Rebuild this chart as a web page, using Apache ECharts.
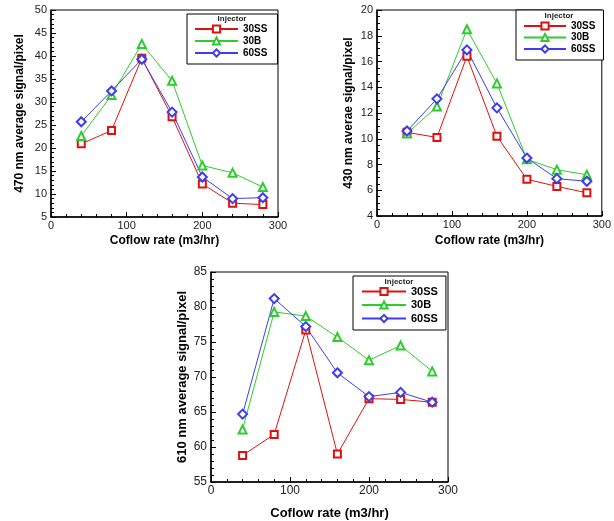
<!DOCTYPE html>
<html>
<head>
<meta charset="utf-8">
<script src="https://cdn.jsdelivr.net/npm/echarts@6/dist/echarts.min.js"></script>
<style>
html,body{margin:0;padding:0;background:#fff;}
#main{width:614px;height:521px;}
</style>
</head>
<body>
<div id="main"></div>
<script>
var coflow = [40, 80, 120, 160, 200, 240, 280];
var names = ['30SS', '30B', '60SS'];

// 470 nm
var s470_30SS = [20.9, 23.8, 39.5, 26.8, 12.2, 8.0, 7.7];
var s470_30B = [22.6, 31.5, 42.6, 34.6, 16.2, 14.6, 11.5];
var s470_60SS = [25.7, 32.4, 39.3, 27.8, 13.7, 9.0, 9.2];
// 430 nm
var s430_30SS = [10.5, 10.1, 16.4, 10.2, 6.85, 6.3, 5.8];
var s430_30B = [10.4, 12.5, 18.5, 14.3, 8.4, 7.6, 7.2];
var s430_60SS = [10.6, 13.1, 16.9, 12.4, 8.5, 6.9, 6.7];
// 610 nm
var s610_30SS = [58.8, 61.8, 76.7, 59.0, 66.9, 66.8, 66.4];
var s610_30B = [62.5, 79.3, 78.7, 75.7, 72.4, 74.5, 70.8];
var s610_60SS = [64.7, 81.2, 77.2, 70.6, 67.2, 67.8, 66.4];

var colors = ['#e01010', '#2ecc2e', '#3c3cf0'];
var symbols = ['emptyRect', 'emptyTriangle', 'emptyDiamond'];
var symSizes = [7, 8, 9];
var font = 'Arial, "Liberation Sans", sans-serif';

function pairs(ys) {
	var out = [];
	for (var i = 0; i < coflow.length; i++) out.push([coflow[i], ys[i]]);
	return out;
}

var chart = echarts.init(document.getElementById('main'));

var grids = [
	{left: 51, top: 10, width: 227, height: 207},
	{left: 377, top: 10, width: 227, height: 206},
	{left: 211, top: 272, width: 237, height: 216}
];
var yRanges = [[5, 50, 5], [4, 20, 2], [55, 85, 5]];
var yNames = ['470 nm average signal/pixel', '430 nm averae signal/pixel', '610 nm average signal/pixel'];
var yGaps = [25, 22, 22];
var xGaps = [18, 19, 25];
var tickFont = [11, 11, 12];
var nameFont = [12, 12, 13];
var allData = [
	[s470_30SS, s470_30B, s470_60SS],
	[s430_30SS, s430_30B, s430_60SS],
	[s610_30SS, s610_30B, s610_60SS]
];
// legend boxes
var legendPos = [
	{left: 187, top: 14, pad: [10, 10, 6, 7], gap: 2, fs: 10, iw: 43},
	{left: 516, top: 10, pad: [11, 8, 6, 7], gap: 1.5, fs: 10, iw: 42},
	{left: 353, top: 276, pad: [10, 8, 6, 8], gap: 2.5, fs: 11, iw: 44}
];
var titlePos = [[232, 19], [559, 16], [399, 282]];

var xAxes = [], yAxes = [], series = [], legends = [], graphics = [];
for (var g = 0; g < 3; g++) {
	grids[g].show = true;
	grids[g].borderColor = '#000';
	grids[g].borderWidth = 1;
	xAxes.push({
		type: 'value', gridIndex: g, min: 0, max: 300, interval: 100,
		name: 'Coflow rate (m3/hr)', nameLocation: 'middle', nameGap: xGaps[g],
		nameTextStyle: {fontFamily: font, fontWeight: 'bold', fontSize: nameFont[g], color: '#000'},
		axisLine: {show: true, lineStyle: {color: '#000', width: 1.5}},
		axisTick: {show: true, inside: true, length: 5, lineStyle: {color: '#000'}},
		minorTick: {show: true, splitNumber: 5, length: 3, lineStyle: {color: '#000'}},
		axisLabel: {fontFamily: font, fontSize: tickFont[g], color: '#222', margin: 3},
		splitLine: {show: false}
	});
	yAxes.push({
		type: 'value', gridIndex: g, min: yRanges[g][0], max: yRanges[g][1], interval: yRanges[g][2],
		name: yNames[g], nameLocation: 'middle', nameGap: yGaps[g],
		nameTextStyle: {fontFamily: font, fontWeight: 'bold', fontSize: nameFont[g], color: '#000'},
		axisLine: {show: true, lineStyle: {color: '#000', width: 1.5}},
		axisTick: {show: true, inside: true, length: 5, lineStyle: {color: '#000'}},
		minorTick: {show: true, splitNumber: g == 1 ? 4 : 5, length: 3, lineStyle: {color: '#000'}},
		axisLabel: {fontFamily: font, fontSize: tickFont[g], color: '#222', margin: 4},
		splitLine: {show: false}
	});
	for (var s = 0; s < 3; s++) {
		series.push({
			name: names[s], type: 'line', xAxisIndex: g, yAxisIndex: g,
			data: pairs(allData[g][s]),
			symbol: symbols[s], symbolSize: symSizes[s],
			lineStyle: {color: colors[s], width: 1},
			itemStyle: {color: colors[s], borderWidth: 1},
			animation: false
		});
	}
	var lp = legendPos[g];
	legends.push({
		orient: 'vertical', left: lp.left, top: lp.top, padding: lp.pad,
		itemWidth: lp.iw, itemHeight: 9, itemGap: lp.gap,
		borderColor: '#000', borderWidth: 1, backgroundColor: '#fff',
		selectedMode: false,
		data: names,
		textStyle: {fontFamily: font, fontWeight: 'bold', fontSize: lp.fs, color: '#000', lineHeight: 10}
	});
	graphics.push({
		type: 'text', x: titlePos[g][0], y: titlePos[g][1], z: 100,
		style: {text: 'Injector', fontFamily: font, fontWeight: 'bold', fontSize: 8, fill: '#222',
			textAlign: 'center', textVerticalAlign: 'middle'}
	});
}

chart.setOption({
	animation: false,
	color: colors,
	grid: grids,
	xAxis: xAxes,
	yAxis: yAxes,
	legend: legends,
	graphic: graphics,
	series: series
});
</script>
</body>
</html>
